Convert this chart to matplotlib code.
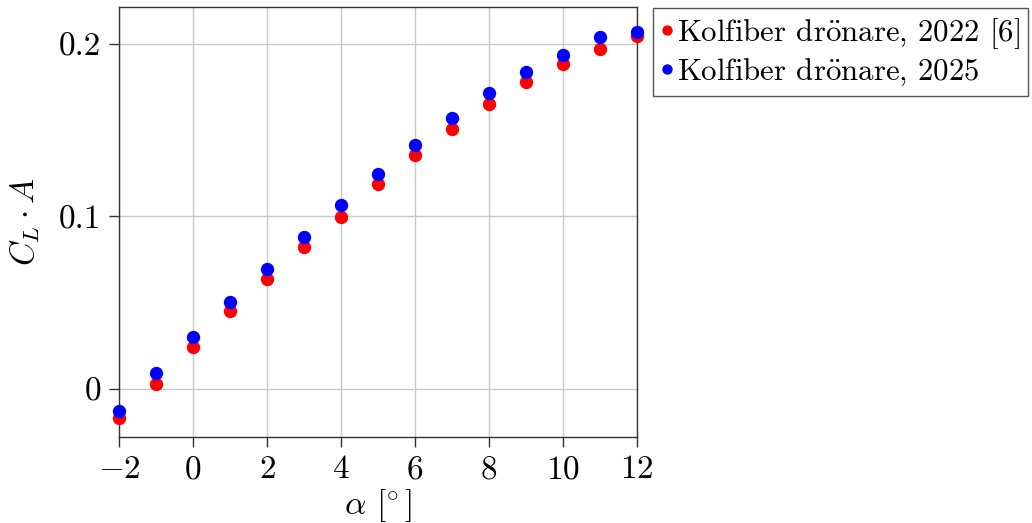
import matplotlib
matplotlib.use("Agg")
import matplotlib.pyplot as plt

plt.rcParams['font.family'] = ['cmr10', 'DejaVu Serif']
plt.rcParams['mathtext.fontset'] = 'cm'
plt.rcParams['axes.formatter.use_mathtext'] = True

# angle of attack [deg] and lift coefficient times area
alpha = [-2, -1, 0, 1, 2, 3, 4, 5, 6, 7, 8, 9, 10, 11, 12]
cla_2022 = [-0.0170, 0.0029, 0.0242, 0.0452, 0.0636, 0.0821, 0.0999, 0.1187,
            0.1354, 0.1507, 0.1652, 0.1778, 0.1884, 0.1971, 0.2046]
cla_2025 = [-0.0126, 0.0095, 0.0303, 0.0504, 0.0694, 0.0881, 0.1065, 0.1246,
            0.1414, 0.1569, 0.1718, 0.1838, 0.1936, 0.2039, 0.2071]

fig = plt.figure(figsize=(10.32, 5.23), dpi=100)
ax = fig.add_axes([0.1153, 0.1644, 0.5019, 0.8222])

ax.plot(alpha, cla_2022, 'o', color='red', markersize=8.6, clip_on=False, zorder=3,
        label=r'Kolfiber dr$\ddot{\mathrm{o}}$nare, 2022 [6]')
ax.plot(alpha, cla_2025, 'o', color='blue', markersize=8.6, clip_on=False, zorder=3,
        label=r'Kolfiber dr$\ddot{\mathrm{o}}$nare, 2025')

ax.set_xlim(-2, 12)
ax.set_ylim(-0.0278, 0.2214)
ax.set_xticks([-2, 0, 2, 4, 6, 8, 10, 12])
ax.set_yticks([0, 0.1, 0.2])
ax.set_yticklabels(['0', '0.1', '0.2'])
ax.grid(True, color='#c8c8c8', linewidth=1.0)
ax.set_axisbelow(True)
for s in ax.spines.values():
    s.set_color('#333333')
    s.set_linewidth(1.0)
ax.tick_params(direction='out', length=7, width=1.0, color='#333333',
               labelsize=24, pad=6)

ax.set_xlabel(r'$\alpha$ [$\!^\circ$]', fontsize=24, labelpad=2)
ax.set_ylabel(r'$C_L\cdot A$', fontsize=24, labelpad=12)

fig.legend(loc='upper left', bbox_to_anchor=(653 / 1032, 1 - 8 / 523),
           borderaxespad=0, fontsize=22.2, frameon=True, fancybox=False,
           edgecolor='#555555', framealpha=1, handlelength=0.4,
           handletextpad=0.12, markerscale=0.75, labelspacing=0.2,
           borderpad=0.25)

fig.savefig('out.png', dpi=100)
